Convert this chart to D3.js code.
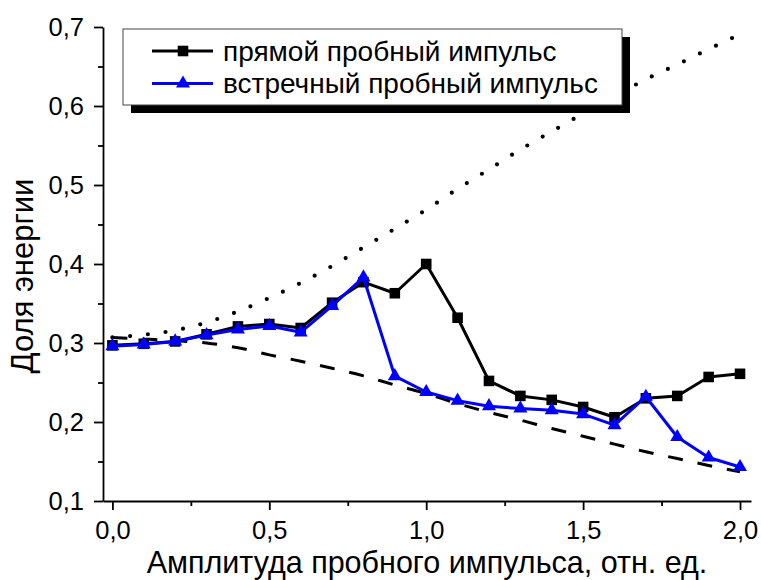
<!DOCTYPE html>
<html>
<head>
<meta charset="utf-8">
<script src="https://cdn.jsdelivr.net/npm/d3@7"></script>
<style>
  html, body { margin: 0; padding: 0; background: #fff; }
  svg { display: block; font-family: "Liberation Sans", Arial, sans-serif; }
</style>
</head>
<body>
<svg id="chart" width="761" height="580"></svg>
<script>
// ---- data ----
const amplitude = [0.0, 0.1, 0.2, 0.3, 0.4, 0.5, 0.6, 0.7, 0.8, 0.9, 1.0, 1.1, 1.2, 1.3, 1.4, 1.5, 1.6, 1.7, 1.8, 1.9, 2.0];
const directPulse = [0.297, 0.299, 0.302, 0.311, 0.321, 0.324, 0.319, 0.351, 0.377, 0.363, 0.400, 0.332, 0.252, 0.233, 0.228, 0.219, 0.206, 0.230, 0.233, 0.257, 0.261];
const counterPulse = [0.296, 0.298, 0.302, 0.310, 0.317, 0.3215, 0.3135, 0.347, 0.383, 0.258, 0.238, 0.227, 0.220, 0.217, 0.215, 0.210, 0.196, 0.232, 0.181, 0.155, 0.143];
const upperCurve = [0.307, 0.3105, 0.316, 0.326, 0.340, 0.357, 0.376, 0.3975, 0.421, 0.4446, 0.4688, 0.495, 0.5198, 0.5448, 0.5678, 0.5904, 0.6124, 0.6338, 0.6525, 0.672, 0.6907];
const lowerCurve = [0.307, 0.305, 0.303, 0.300, 0.294, 0.285, 0.277, 0.268, 0.2584, 0.2468, 0.236, 0.2233, 0.2123, 0.2024, 0.1918, 0.182, 0.172, 0.1623, 0.1537, 0.145, 0.137];
const xTicks = [0.0, 0.5, 1.0, 1.5, 2.0];
const xMinorTicks = [0.25, 0.75, 1.25, 1.75];
const yTicks = [0.1, 0.2, 0.3, 0.4, 0.5, 0.6, 0.7];
const yMinorTicks = [0.15, 0.25, 0.35, 0.45, 0.55, 0.65];
const seriesNames = ["прямой пробный импульс", "встречный пробный импульс"];
const xTitle = "Амплитуда пробного импульса, отн. ед.";
const yTitle = "Доля энергии";

// ---- layout ----
const svg = d3.select("#chart");
const x = d3.scaleLinear().domain([-0.03, 2.035]).range([103, 751]);
const y = d3.scaleLinear().domain([0.1, 0.7]).range([501, 27]);
const fmt = v => d3.format(".1f")(v).replace(".", ",");

// minor ticks
svg.append("g").attr("transform", "translate(0,501)")
  .call(d3.axisBottom(x).tickValues(xMinorTicks).tickSize(5).tickSizeOuter(0).tickFormat(""))
  .call(g => g.select(".domain").remove())
  .call(g => g.selectAll("line").attr("stroke-width", 1.8));
svg.append("g").attr("transform", "translate(103,0)")
  .call(d3.axisLeft(y).tickValues(yMinorTicks).tickSize(5).tickSizeOuter(0).tickFormat(""))
  .call(g => g.select(".domain").remove())
  .call(g => g.selectAll("line").attr("stroke-width", 1.8));

// major axes
const xAxis = svg.append("g").attr("transform", "translate(0,501)")
  .call(d3.axisBottom(x).tickValues(xTicks).tickSize(9).tickSizeOuter(0).tickPadding(11).tickFormat(fmt));
const yAxis = svg.append("g").attr("transform", "translate(103,0)")
  .call(d3.axisLeft(y).tickValues(yTicks).tickSize(9).tickSizeOuter(0).tickPadding(10).tickFormat(fmt));
[xAxis, yAxis].forEach(a => {
  a.select(".domain").attr("stroke-width", 1.8);
  a.selectAll(".tick line").attr("stroke-width", 1.8);
  a.selectAll("text").attr("font-size", 25.5).attr("font-family", "'Liberation Sans', Arial, sans-serif").attr("fill", "#000");
});
xAxis.selectAll("text").attr("dy", "0.71em");

// axis titles
svg.append("text").attr("x", 427).attr("y", 573).attr("text-anchor", "middle")
  .attr("font-size", 30.5).text(xTitle);
svg.append("text").attr("transform", "translate(33,276) rotate(-90)").attr("text-anchor", "middle")
  .attr("font-size", 31).text(yTitle);

// reference curves
const curveLine = d3.line().x((d, i) => x(amplitude[i])).y(d => y(d)).curve(d3.curveMonotoneX);
svg.append("path").datum(lowerCurve).attr("d", curveLine)
  .attr("fill", "none").attr("stroke", "#000").attr("stroke-width", 3).attr("stroke-dasharray", "15 15");
svg.append("path").datum(upperCurve).attr("d", curveLine)
  .attr("fill", "none").attr("stroke", "#000").attr("stroke-width", 4.2)
  .attr("stroke-linecap", "round").attr("stroke-dasharray", "0 17.8");

// data series
const dataLine = d3.line().x((d, i) => x(amplitude[i])).y(d => y(d));
const series = [
  { values: directPulse, color: "#000", symbol: d3.symbolSquare, size: 112 },
  { values: counterPulse, color: "#0000ff", symbol: d3.symbolTriangle, size: 85 }
];
series.forEach(s => {
  svg.append("path").datum(s.values).attr("d", dataLine)
    .attr("fill", "none").attr("stroke", s.color).attr("stroke-width", 3).attr("stroke-linejoin", "round");
  svg.append("g").selectAll("path").data(s.values).join("path")
    .attr("transform", (d, i) => `translate(${x(amplitude[i])},${y(d)})`)
    .attr("d", d3.symbol(s.symbol, s.size)).attr("fill", s.color);
});

// legend
const lg = svg.append("g");
lg.append("rect").attr("x", 131).attr("y", 37).attr("width", 499).attr("height", 76).attr("fill", "#000");
lg.append("rect").attr("x", 123).attr("y", 29).attr("width", 499).attr("height", 76)
  .attr("fill", "#fff").attr("stroke", "#444").attr("stroke-width", 1);
series.forEach((s, i) => {
  const cy = 51 + i * 32.5;
  lg.append("line").attr("x1", 152).attr("x2", 213).attr("y1", cy).attr("y2", cy)
    .attr("stroke", s.color).attr("stroke-width", 3);
  lg.append("path").attr("transform", `translate(183,${cy})`).attr("d", d3.symbol(s.symbol, s.size)).attr("fill", s.color);
  lg.append("text").attr("x", 223).attr("y", cy).attr("dy", "0.35em").attr("font-size", 28).text(seriesNames[i]);
});
</script>
</body>
</html>
